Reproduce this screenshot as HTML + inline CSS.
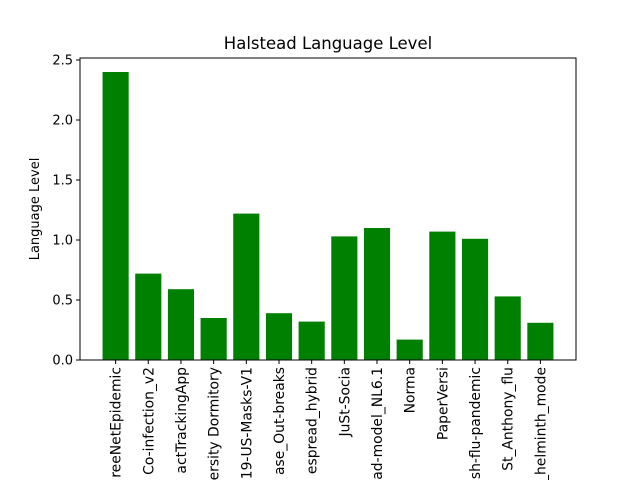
<!DOCTYPE html>
<html><head><meta charset="utf-8"><style>body{margin:0;background:#fff;overflow:hidden}svg{display:block;font-family:"DejaVu Sans","Liberation Sans",sans-serif}</style></head>
<body>
<svg width="640" height="480" id="c" overflow="hidden">
<text x="328" y="49" font-size="16.5" text-anchor="middle">Halstead Language Level</text>
<text transform="translate(39,209) rotate(-90)" font-size="13" text-anchor="middle">Language Level</text>
<g id="bars"></g><g id="yt"></g><g id="xt"></g>
<rect x="80" y="58" width="496" height="302" fill="none" stroke="#000" stroke-width="1"/>
</svg>
<script>
const categories=["reeNetEpidemic","Co-infection_v2","actTrackingApp","ersity Dormitory","19-US-Masks-V1","ase_Out-breaks","espread_hybrid","JuSt-Socia","ad-model_NL6.1","Norma","PaperVersi","sh-flu-pandemic","St_Anthony_flu","_helminth_mode"];
const values=[2.40,0.72,0.59,0.35,1.22,0.39,0.32,1.03,1.10,0.17,1.07,1.01,0.53,0.31];
const yTicks=[0,0.5,1.0,1.5,2.0,2.5];
const ns="http://www.w3.org/2000/svg";
const L=80,W=496,B=360;
const n=categories.length,lo=-0.4-0.69,hi=n-1+0.4+0.69;
const xs=i=>L+(i-lo)/(hi-lo)*W;
const ys=v=>B-v*120;
const bars=document.getElementById('bars'),xt=document.getElementById('xt'),yt=document.getElementById('yt');
const bw=0.8*W/(hi-lo);
values.forEach((v,i)=>{
 const r=document.createElementNS(ns,'rect');
 r.setAttribute('x',xs(i)-bw/2);r.setAttribute('y',ys(v));r.setAttribute('width',bw);r.setAttribute('height',B-ys(v));r.setAttribute('fill','#008000');
 
 
 bars.appendChild(r);
 const t=document.createElementNS(ns,'line');
 t.setAttribute('x1',xs(i));t.setAttribute('x2',xs(i));t.setAttribute('y1',B);t.setAttribute('y2',B+4);t.setAttribute('stroke','#000');
 
 
 xt.appendChild(t);
 const tx=document.createElementNS(ns,'text');
 tx.setAttribute('transform',`translate(${xs(i)+5},367) rotate(-90)`);tx.setAttribute('text-anchor','end');tx.setAttribute('font-size','13.9');
 tx.textContent=categories[i];
 
 
 xt.appendChild(tx);
});
yTicks.forEach(v=>{
 const t=document.createElementNS(ns,'line');
 t.setAttribute('x1',L-4);t.setAttribute('x2',L);t.setAttribute('y1',ys(v));t.setAttribute('y2',ys(v));t.setAttribute('stroke','#000');
 
 
 yt.appendChild(t);
 const tx=document.createElementNS(ns,'text');
 tx.setAttribute('x',L-7);tx.setAttribute('y',ys(v)+4.5);tx.setAttribute('text-anchor','end');tx.setAttribute('font-size','13');
 tx.textContent=v.toFixed(1);
 
 
 yt.appendChild(tx);
});
</script>
</body></html>
